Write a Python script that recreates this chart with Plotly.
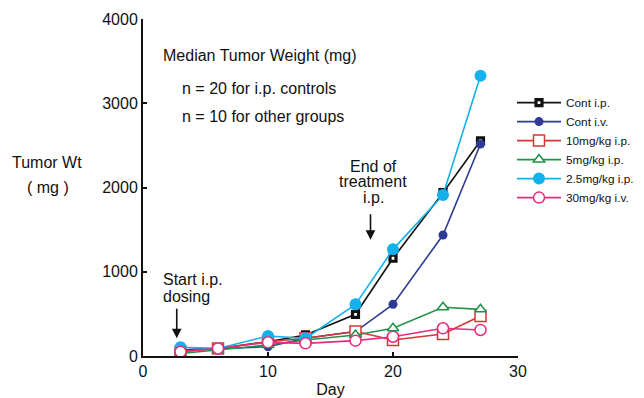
import plotly.graph_objects as go

days = [3, 6, 10, 13, 17, 20, 24, 27]

cont_ip = [70, 90, 170, 250, 495, 1160, 1938, 2555]
cont_iv = [70, 90, 110, 210, 290, 613, 1436, 2516]
mg10_ip = [50, 90, 170, 210, 290, 190, 261, 475]
mg5_ip = [30, 70, 130, 190, 250, 329, 578, 554]
mg25_ip = [103, 90, 237, 210, 613, 1266, 1911, 3327]
mg30_iv = [50, 90, 162, 150, 182, 229, 329, 309]

series_names = ["Cont i.p.", "Cont i.v.", "10mg/kg i.p.", "5mg/kg i.p.", "2.5mg/kg i.p.", "30mg/kg i.v."]
series_values = [cont_ip, cont_iv, mg10_ip, mg5_ip, mg25_ip, mg30_iv]

x_ticks = [0, 10, 20, 30]
y_ticks = [0, 1000, 2000, 3000, 4000]

styles = [
    dict(color="#111111", symbol="square", size=6, fill="#ffffff", lw=3.2),
    dict(color="#2E3A94", symbol="circle", size=9, fill="#2E3A94", lw=0),
    dict(color="#D03A36", symbol="square", size=11, fill="#ffffff", lw=1.5),
    dict(color="#1F9448", symbol="triangle-up", size=10, fill="#ffffff", lw=1.5),
    dict(color="#14B2EC", symbol="circle", size=12, fill="#14B2EC", lw=0),
    dict(color="#EB2A7E", symbol="circle", size=11, fill="#ffffff", lw=1.5),
]

FONT = "Liberation Sans, Arial, Helvetica, sans-serif"
FS = 16
OFF = 8  # default page body margin

fig = go.Figure()
for name, vals, st in zip(series_names, series_values, styles):
    fig.add_trace(go.Scatter(
        x=days, y=vals, name=name, mode="lines+markers",
        line=dict(color=st["color"], width=1.6),
        marker=dict(symbol=st["symbol"], size=st["size"], color=st["fill"],
                    line=dict(color=st["color"], width=st["lw"])),
        cliponaxis=False,
    ))

def txt(x, y, t, xanchor="left"):
    fig.add_annotation(x=x, y=y, xref="x", yref="y", text=t, showarrow=False,
                       xanchor=xanchor, yanchor="middle",
                       font=dict(size=FS, color="#111111", family=FONT))

txt(1.45, 3561, "Median Tumor Weight (mg)")
txt(2.95, 3181, "n = 20 for i.p. controls")
txt(2.95, 2840, "n = 10 for other groups")
txt(18.4, 2255, "End of", "center")
txt(18.4, 2070, "treatment", "center")
txt(18.4, 1880, "i.p.", "center")
txt(1.45, 910, "Start i.p.")
txt(1.45, 705, "dosing")

# arrows
fig.add_annotation(x=18.2, y=1380, ax=18.2, ay=1700, xref="x", yref="y", axref="x", ayref="y",
                   text="", showarrow=True, arrowhead=2, arrowsize=1.2, arrowwidth=1.6, arrowcolor="#111111")
fig.add_annotation(x=2.7, y=210, ax=2.7, ay=580, xref="x", yref="y", axref="x", ayref="y",
                   text="", showarrow=True, arrowhead=2, arrowsize=1.2, arrowwidth=1.6, arrowcolor="#111111")

# y title lines in paper coords (plot area x: 143..518, y: 19..356 in page px)
def px_to_paper(px, py):
    return (px - 143) / 375.0, (356 - py) / 337.0
for t, px, py in [("Tumor Wt", 47, 162), ("( mg )", 48, 187)]:
    xp, yp = px_to_paper(px, py)
    fig.add_annotation(x=xp, y=yp, xref="paper", yref="paper", text=t, showarrow=False,
                       xanchor="center", yanchor="middle",
                       font=dict(size=FS, color="#111111", family=FONT))

fig.update_layout(
    width=644 - OFF, height=398 - OFF,
    margin=dict(l=143 - OFF, r=644 - 518, t=19 - OFF, b=398 - 356, autoexpand=False),
    paper_bgcolor="white", plot_bgcolor="white",
    font=dict(family=FONT, size=FS, color="#111111"),
    showlegend=True,
    legend=dict(x=0.984, xanchor="left", y=0.795, yanchor="top",
                font=dict(size=11.8, family=FONT, color="#111111"),
                bgcolor="rgba(0,0,0,0)", itemwidth=44, tracegroupgap=0),
    xaxis=dict(range=[0, 30], tickvals=x_ticks, showgrid=False, zeroline=False,
               showline=True, linecolor="#111111", linewidth=2,
               ticks="inside", ticklen=4, tickwidth=1.5, tickcolor="#111111",
               title=dict(text="Day", standoff=8, font=dict(size=FS)), automargin=False),
    yaxis=dict(range=[0, 4000], tickvals=y_ticks, showgrid=False, zeroline=False,
               showline=True, linecolor="#111111", linewidth=2,
               ticks="inside", ticklen=4, tickwidth=1.5, tickcolor="#111111",
               automargin=False),
)

fig.write_html("out.html")
